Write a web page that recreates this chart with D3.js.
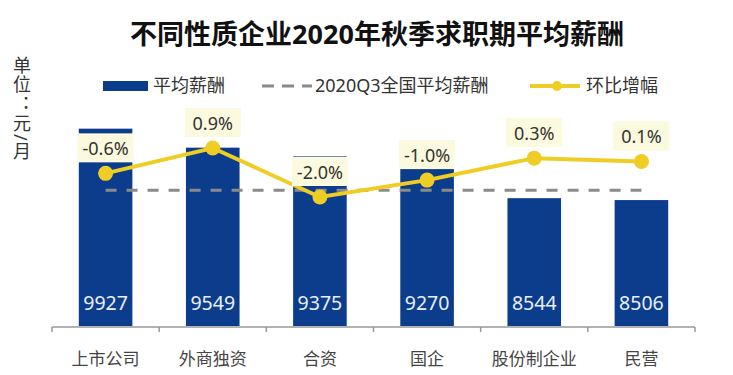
<!DOCTYPE html>
<meta charset="utf-8">
<style>
  body { margin: 0; background: #fff; }
  svg { display: block; font-family: "Noto Sans", "Noto Sans CJK SC", sans-serif; }
</style>
<script src="https://d3js.org/d3.v7.min.js"></script>
<div id="chart"></div>
<script>
  // data
  const categories = ["上市公司", "外商独资", "合资", "国企", "股份制企业", "民营"];
  const salary = [9927, 9549, 9375, 9270, 8544, 8506];
  const change = [-0.6, 0.9, -2.0, -1.0, 0.3, 0.1];
  const nationalAvg = 8700;

  const W = 733, H = 375;
  const blue = "#0c3c8c", yellow = "#efcd24", grey = "#8a8a8a";

  const svg = d3.select("#chart").append("svg")
      .attr("width", W).attr("height", H);

  // scales
  const x = d3.scaleBand().domain(categories).range([52, 695])
      .paddingInner(0.5).paddingOuter(0.25);
  const y = d3.scaleLinear().domain([6000, 10000]).range([326, 125]);
  const y2 = d3.scaleLinear().domain([-2.0, 0.9]).range([197, 148]);
  const cx = d => x(d) + x.bandwidth() / 2;

  // title
  svg.append("text").attr("x", 377).attr("y", 44)
      .attr("text-anchor", "middle").attr("font-size", 27).attr("font-weight", "bold")
      .attr("fill", "#111").text("不同性质企业2020年秋季求职期平均薪酬");

  // unit label (vertical)
  svg.append("text").attr("x", 21).attr("y", 56)
      .style("writing-mode", "vertical-rl").style("letter-spacing", "1.5px")
      .attr("font-size", 18).attr("fill", "#333").text("单位：元/月");

  // legend
  const lg = svg.append("g").attr("font-size", 18).attr("fill", "#333");
  lg.append("rect").attr("x", 103).attr("y", 81).attr("width", 45).attr("height", 10).attr("fill", blue);
  lg.append("text").attr("x", 153).attr("y", 92).text("平均薪酬");
  lg.append("line").attr("x1", 262).attr("x2", 312).attr("y1", 86).attr("y2", 86)
      .attr("stroke", grey).attr("stroke-width", 3).attr("stroke-dasharray", "12,8");
  lg.append("text").attr("x", 315).attr("y", 92).text("2020Q3全国平均薪酬");
  lg.append("line").attr("x1", 530).attr("x2", 580).attr("y1", 86).attr("y2", 86)
      .attr("stroke", yellow).attr("stroke-width", 4);
  lg.append("circle").attr("cx", 557).attr("cy", 86).attr("r", 5).attr("fill", yellow);
  lg.append("text").attr("x", 586).attr("y", 92).text("环比增幅");

  // bars
  svg.append("g").selectAll("rect").data(categories).join("rect")
      .attr("x", d => x(d))
      .attr("y", (d, i) => y(salary[i]))
      .attr("width", x.bandwidth())
      .attr("height", (d, i) => y.range()[0] - y(salary[i]))
      .attr("fill", blue);

  // bar values
  svg.append("g").selectAll("text").data(categories).join("text")
      .attr("x", cx).attr("y", 310)
      .attr("text-anchor", "middle").attr("font-size", 19.5).attr("fill", "#e8effb")
      .text((d, i) => salary[i]);

  // x axis: baseline + ticks on band edges
  const axisY = 327;
  svg.append("line").attr("x1", 52).attr("x2", 695).attr("y1", axisY).attr("y2", axisY)
      .attr("stroke", "#999").attr("stroke-width", 1.5);
  const edges = categories.map(d => x(d) - x.step() * x.paddingInner() / 2)
      .concat([x.range()[1]]);
  svg.append("g").selectAll("line").data(edges).join("line")
      .attr("x1", d => d).attr("x2", d => d).attr("y1", axisY).attr("y2", axisY + 5)
      .attr("stroke", "#999").attr("stroke-width", 1.5);
  svg.append("g")
      .attr("transform", `translate(0,${axisY})`)
      .call(d3.axisBottom(x).tickSize(0).tickPadding(26))
      .call(g => g.select(".domain").remove())
      .call(g => g.selectAll("text").attr("font-size", 17).attr("fill", "#444")
          .attr("font-family", "'Noto Sans CJK SC', sans-serif"));

  // national average dashed line
  svg.append("line")
      .attr("x1", cx(categories[0])).attr("x2", cx(categories[categories.length - 1]))
      .attr("y1", y(nationalAvg)).attr("y2", y(nationalAvg))
      .attr("stroke", grey).attr("stroke-width", 3).attr("stroke-dasharray", "11,10");

  // change line
  const pts = categories.map((d, i) => [cx(d), y2(change[i])]);
  svg.append("path").datum(pts)
      .attr("fill", "none").attr("stroke", yellow).attr("stroke-width", 4)
      .attr("d", d3.line());
  svg.append("g").selectAll("circle").data(pts).join("circle")
      .attr("cx", d => d[0]).attr("cy", d => d[1]).attr("r", 7.5).attr("fill", yellow);

  // change labels with pale boxes
  const lab = svg.append("g").selectAll("g").data(categories).join("g")
      .attr("transform", (d, i) => `translate(${cx(d)},${y2(change[i]) - 25})`);
  lab.append("rect").attr("x", -28).attr("y", -15).attr("width", 56).attr("height", 29)
      .attr("fill", "#fbf9de");
  lab.append("text").attr("text-anchor", "middle").attr("y", 6.5)
      .attr("font-size", 18).attr("fill", "#333")
      .text((d, i) => change[i].toFixed(1) + "%");
</script>
